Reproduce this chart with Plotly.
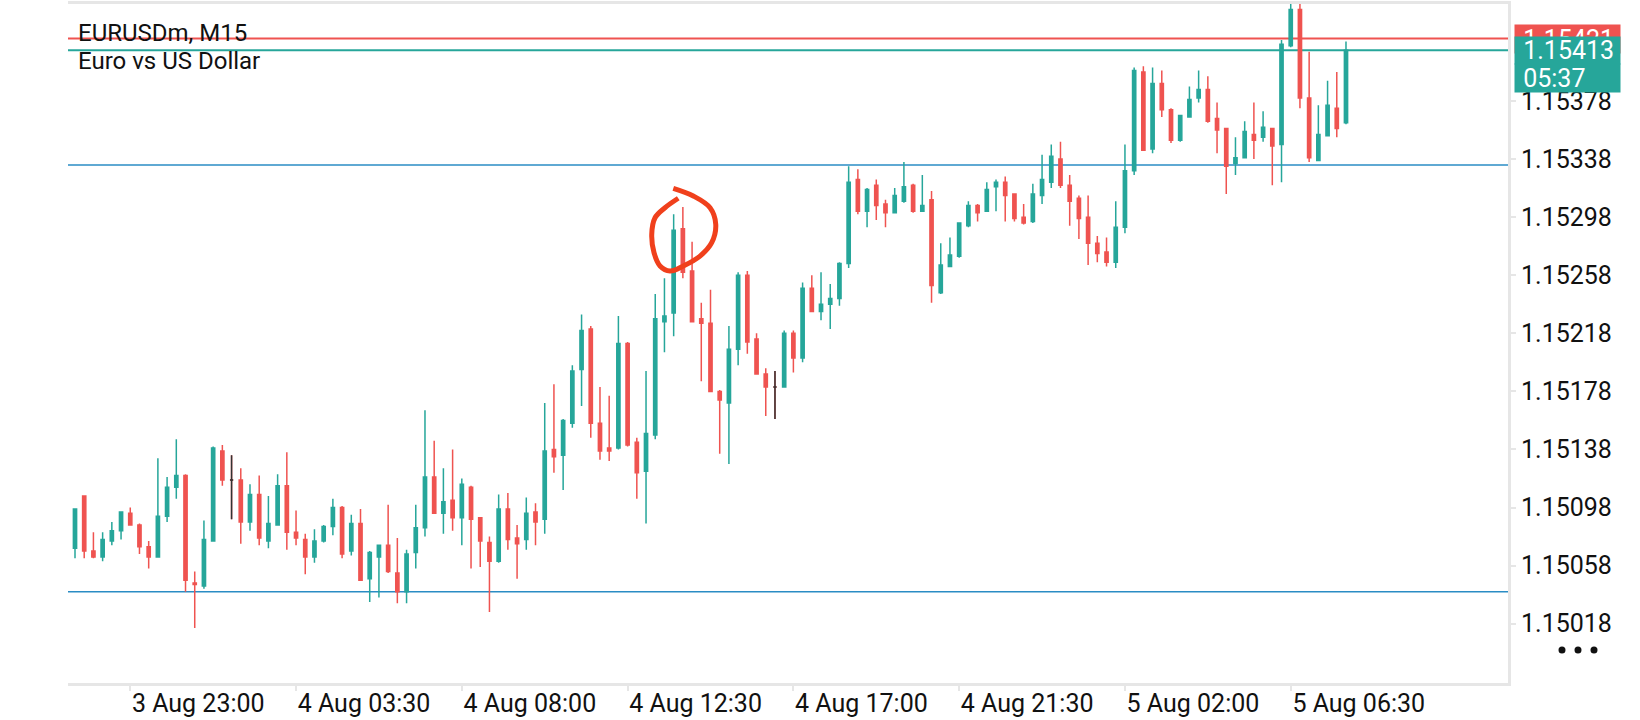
import pandas as pd
import plotly.graph_objects as go

# ---------------- data ----------------
TITLE_SYMBOL = "EURUSDm, M15"
TITLE_DESC = "Euro vs US Dollar"

first_bar_time = "2025-08-03 21:30"
bar_minutes = 15

bar_open = [
    1.15070, 1.15106, 1.15068, 1.15064, 1.15075,
    1.15082, 1.15094, 1.15086, 1.15071, 1.15064, 1.15092, 1.15112, 1.15120, 1.15046, 1.15044,
    1.15075, 1.15137, 1.15117, 1.15117, 1.15088, 1.15107, 1.15075, 1.15086, 1.15113, 1.15081,
    1.15076, 1.15064, 1.15075, 1.15085, 1.15098, 1.15068, 1.15087, 1.15049, 1.15064, 1.15072,
    1.15053, 1.15040, 1.15067, 1.15084, 1.15119, 1.15094, 1.15103, 1.15091, 1.15112, 1.15091,
    1.15074, 1.15061, 1.15097, 1.15077, 1.15076, 1.15095, 1.15090, 1.15138, 1.15134, 1.15156,
    1.15193, 1.15221, 1.15156, 1.15139, 1.15139, 1.15211, 1.15143, 1.15123, 1.15148, 1.15226,
    1.15232, 1.15290, 1.15261, 1.15228, 1.15225, 1.15178, 1.15170, 1.15207, 1.15258, 1.15214,
    1.15190, 1.15181, 1.15181, 1.15218, 1.15201, 1.15249, 1.15233, 1.15238, 1.15242, 1.15266,
    1.15324, 1.15302, 1.15320, 1.15307, 1.15301, 1.15309, 1.15320, 1.15302, 1.15310, 1.15246,
    1.15264, 1.15271, 1.15292, 1.15306, 1.15302, 1.15319, 1.15322, 1.15314, 1.15298, 1.15295,
    1.15313, 1.15322, 1.15338, 1.15320, 1.15311, 1.15298, 1.15280, 1.15274, 1.15267, 1.15291,
    1.15330, 1.15398, 1.15345, 1.15390, 1.15372, 1.15351, 1.15367, 1.15380, 1.15386, 1.15366,
    1.15359, 1.15335, 1.15339, 1.15355, 1.15353, 1.15359, 1.15348, 1.15416, 1.15441, 1.15380,
    1.15337, 1.15354, 1.15373, 1.15363,
]
bar_high = [
    1.15097, 1.15106, 1.15081, 1.15081, 1.15088,
    1.15095, 1.15098, 1.15087, 1.15075, 1.15132, 1.15119, 1.15145, 1.15121, 1.15054, 1.15089,
    1.15140, 1.15141, 1.15134, 1.15125, 1.15114, 1.15120, 1.15106, 1.15121, 1.15136, 1.15096,
    1.15080, 1.15083, 1.15086, 1.15104, 1.15099, 1.15093, 1.15097, 1.15068, 1.15072, 1.15100,
    1.15077, 1.15069, 1.15100, 1.15165, 1.15144, 1.15125, 1.15138, 1.15118, 1.15113, 1.15091,
    1.15078, 1.15107, 1.15108, 1.15086, 1.15105, 1.15101, 1.15170, 1.15183, 1.15159, 1.15196,
    1.15231, 1.15223, 1.15181, 1.15175, 1.15230, 1.15212, 1.15146, 1.15192, 1.15245, 1.15256,
    1.15300, 1.15305, 1.15281, 1.15239, 1.15248, 1.15179, 1.15223, 1.15260, 1.15261, 1.15218,
    1.15194, 1.15192, 1.15220, 1.15220, 1.15253, 1.15258, 1.15260, 1.15252, 1.15267, 1.15333,
    1.15331, 1.15318, 1.15324, 1.15310, 1.15318, 1.15336, 1.15321, 1.15327, 1.15316, 1.15280,
    1.15284, 1.15294, 1.15309, 1.15307, 1.15322, 1.15324, 1.15326, 1.15314, 1.15307, 1.15321,
    1.15341, 1.15348, 1.15350, 1.15327, 1.15313, 1.15313, 1.15285, 1.15284, 1.15309, 1.15348,
    1.15401, 1.15402, 1.15401, 1.15399, 1.15373, 1.15368, 1.15388, 1.15399, 1.15395, 1.15377,
    1.15359, 1.15353, 1.15364, 1.15377, 1.15371, 1.15359, 1.15420, 1.15446, 1.15446, 1.15412,
    1.15375, 1.15392, 1.15398, 1.15419,
]
bar_low = [
    1.15063, 1.15063, 1.15063, 1.15061, 1.15072,
    1.15076, 1.15086, 1.15066, 1.15056, 1.15064, 1.15088, 1.15104, 1.15040, 1.15015, 1.15042,
    1.15075, 1.15113, 1.15090, 1.15073, 1.15082, 1.15072, 1.15070, 1.15086, 1.15069, 1.15072,
    1.15052, 1.15060, 1.15074, 1.15079, 1.15063, 1.15065, 1.15048, 1.15033, 1.15036, 1.15053,
    1.15032, 1.15032, 1.15056, 1.15078, 1.15094, 1.15080, 1.15082, 1.15072, 1.15056, 1.15057,
    1.15026, 1.15060, 1.15069, 1.15049, 1.15069, 1.15072, 1.15080, 1.15122, 1.15110, 1.15153,
    1.15168, 1.15146, 1.15131, 1.15130, 1.15138, 1.15140, 1.15104, 1.15087, 1.15145, 1.15205,
    1.15216, 1.15256, 1.15226, 1.15185, 1.15178, 1.15135, 1.15128, 1.15196, 1.15204, 1.15190,
    1.15161, 1.15159, 1.15181, 1.15191, 1.15198, 1.15233, 1.15227, 1.15221, 1.15237, 1.15263,
    1.15300, 1.15291, 1.15296, 1.15291, 1.15301, 1.15308, 1.15301, 1.15302, 1.15239, 1.15245,
    1.15264, 1.15270, 1.15291, 1.15295, 1.15302, 1.15302, 1.15295, 1.15295, 1.15293, 1.15294,
    1.15307, 1.15318, 1.15318, 1.15292, 1.15283, 1.15265, 1.15267, 1.15264, 1.15263, 1.15287,
    1.15327, 1.15344, 1.15342, 1.15367, 1.15349, 1.15350, 1.15367, 1.15377, 1.15363, 1.15342,
    1.15314, 1.15327, 1.15339, 1.15338, 1.15350, 1.15320, 1.15322, 1.15415, 1.15373, 1.15336,
    1.15337, 1.15354, 1.15353, 1.15362,
]
bar_close = [
    1.15097, 1.15068, 1.15064, 1.15076, 1.15082,
    1.15095, 1.15086, 1.15071, 1.15064, 1.15092, 1.15112, 1.15120, 1.15048, 1.15045, 1.15076,
    1.15139, 1.15117, 1.15117, 1.15088, 1.15107, 1.15077, 1.15087, 1.15113, 1.15081, 1.15077,
    1.15064, 1.15075, 1.15085, 1.15098, 1.15066, 1.15087, 1.15048, 1.15067, 1.15072, 1.15054,
    1.15040, 1.15066, 1.15084, 1.15119, 1.15094, 1.15102, 1.15091, 1.15114, 1.15090, 1.15075,
    1.15061, 1.15097, 1.15076, 1.15073, 1.15094, 1.15088, 1.15137, 1.15133, 1.15158, 1.15192,
    1.15220, 1.15156, 1.15137, 1.15137, 1.15211, 1.15141, 1.15122, 1.15149, 1.15228, 1.15230,
    1.15289, 1.15260, 1.15226, 1.15225, 1.15178, 1.15172, 1.15207, 1.15258, 1.15212, 1.15190,
    1.15181, 1.15181, 1.15218, 1.15201, 1.15249, 1.15233, 1.15238, 1.15242, 1.15266, 1.15322,
    1.15302, 1.15317, 1.15306, 1.15301, 1.15313, 1.15319, 1.15302, 1.15306, 1.15251, 1.15265,
    1.15272, 1.15294, 1.15306, 1.15301, 1.15317, 1.15322, 1.15313, 1.15297, 1.15294, 1.15314,
    1.15324, 1.15340, 1.15320, 1.15309, 1.15297, 1.15280, 1.15273, 1.15267, 1.15291, 1.15330,
    1.15399, 1.15344, 1.15390, 1.15372, 1.15351, 1.15368, 1.15379, 1.15386, 1.15364, 1.15358,
    1.15333, 1.15339, 1.15357, 1.15351, 1.15360, 1.15347, 1.15417, 1.15441, 1.15380, 1.15339,
    1.15355, 1.15375, 1.15359, 1.15413,
]

ask_price = 1.15421
bid_price = 1.15413
bar_countdown = "05:37"
level_prices = [1.15334, 1.15040]

y_tick_values = [1.15018, 1.15058, 1.15098, 1.15138, 1.15178,
                 1.15218, 1.15258, 1.15298, 1.15338, 1.15378]
x_tick_times = ["2025-08-03 23:00", "2025-08-04 03:30", "2025-08-04 08:00",
                "2025-08-04 12:30", "2025-08-04 17:00", "2025-08-04 21:30",
                "2025-08-05 02:00", "2025-08-05 06:30"]
x_tick_labels = ["3 Aug 23:00", "4 Aug 03:30", "4 Aug 08:00", "4 Aug 12:30",
                 "4 Aug 17:00", "4 Aug 21:30", "5 Aug 02:00", "5 Aug 06:30"]

# hand-drawn marker around the highlighted candles (bars from first bar, price)
circle_bar = [64.96, 67.13, 68.95, 69.57, 69.13, 67.86, 66.05, 64.6,
              63.52, 62.87, 62.62, 62.98, 64.06, 65.5]
circle_price = [1.153179, 1.153126, 1.153045, 1.152931, 1.152804, 1.152712,
                1.152644, 1.152609, 1.152644, 1.152735, 1.152862, 1.152976,
                1.153045, 1.15311]

# ---------------- styles ----------------
TEAL = "#26a69a"
RED = "#ef5350"
LEVEL = "#2a8cc4"
AXIS = "#e6e6e6"
FONT = "Roboto"

times = pd.date_range(first_bar_time, periods=len(bar_close), freq=f"{bar_minutes}min")
step = pd.Timedelta(minutes=bar_minutes)

is_doji = [o == c for o, c in zip(bar_open, bar_close)]
nan = float("nan")

fig = go.Figure()
fig.add_trace(go.Candlestick(
    x=times, open=bar_open, high=bar_high, low=bar_low, close=bar_close,
    increasing=dict(line=dict(color=TEAL, width=1.5), fillcolor=TEAL),
    decreasing=dict(line=dict(color=RED, width=1.5), fillcolor=RED),
    whiskerwidth=0, hoverinfo="skip", showlegend=False,
))
fig.add_trace(go.Candlestick(
    x=times,
    open=[o if d else nan for o, d in zip(bar_open, is_doji)],
    high=[h if d else nan for h, d in zip(bar_high, is_doji)],
    low=[l if d else nan for l, d in zip(bar_low, is_doji)],
    close=[c if d else nan for c, d in zip(bar_close, is_doji)],
    increasing=dict(line=dict(color="#333333", width=1.5), fillcolor="#333333"),
    decreasing=dict(line=dict(color="#333333", width=1.5), fillcolor="#333333"),
    whiskerwidth=0, hoverinfo="skip", showlegend=False,
))
fig.add_trace(go.Scatter(
    x=[times[0] + step * b for b in circle_bar], y=circle_price,
    mode="lines", line=dict(color="#f0401c", width=5, shape="spline", smoothing=1.0),
    hoverinfo="skip", showlegend=False,
))

shapes = []
for p in level_prices:
    shapes.append(dict(type="line", xref="paper", x0=0, x1=1, yref="y", y0=p, y1=p,
                       line=dict(color=LEVEL, width=1.5), layer="below"))
shapes.append(dict(type="line", xref="paper", x0=0, x1=1, yref="y", y0=ask_price, y1=ask_price,
                   line=dict(color=RED, width=2), layer="below"))
shapes.append(dict(type="line", xref="paper", x0=0, x1=1, yref="y", y0=bid_price, y1=bid_price,
                   line=dict(color=TEAL, width=2), layer="below"))

# plot geometry (pixels) for placing labels outside the plot area
L, R, T, B = 68, 132, 4, 37
W, H = 1640, 720
PW, PH = W - L - R, H - T - B


def px_x(x):
    return (x - L) / PW


def px_y(y):
    return 1 - (y - T) / PH


for cx in (1562, 1578, 1594):
    shapes.append(dict(type="circle", xref="paper", yref="paper",
                       x0=px_x(cx - 3.5), x1=px_x(cx + 3.5),
                       y0=px_y(650 + 3.5), y1=px_y(650 - 3.5),
                       fillcolor="#111111", line=dict(width=0)))

annotations = [
    dict(text=TITLE_SYMBOL, xref="paper", yref="paper", x=px_x(76), y=px_y(33),
         xanchor="left", yanchor="middle", showarrow=False,
         font=dict(family=FONT, size=24, color="#111111")),
    dict(text=TITLE_DESC, xref="paper", yref="paper", x=px_x(76), y=px_y(61),
         xanchor="left", yanchor="middle", showarrow=False,
         font=dict(family=FONT, size=24, color="#111111")),
    dict(text="\u00a0" + f"{ask_price:.5f}", xref="paper", yref="paper",
         x=px_x(1514), y=px_y(39), xanchor="left", yanchor="middle", showarrow=False,
         width=101, height=24, borderpad=2, align="left", bgcolor=RED,
         font=dict(family=FONT, size=25, color="white")),
    dict(text="\u00a0" + f"{bid_price:.5f}", xref="paper", yref="paper",
         x=px_x(1514), y=px_y(50.5), xanchor="left", yanchor="middle", showarrow=False,
         width=101, height=23, borderpad=2, align="left", bgcolor=TEAL,
         font=dict(family=FONT, size=25, color="white")),
    dict(text="\u00a0" + bar_countdown, xref="paper", yref="paper",
         x=px_x(1514), y=px_y(78), xanchor="left", yanchor="middle", showarrow=False,
         width=101, height=24, borderpad=2, align="left", bgcolor=TEAL,
         font=dict(family=FONT, size=25, color="white")),
]

x_left = times[0] - step * (7 / 9.2101)
x_right = times[0] + step * ((1508 - 75) / 9.2101)
px_per_unit = 145194
y_top = 1.15378 + (101 - T) / px_per_unit
y_bot = 1.15378 - (H - B - 101) / px_per_unit

fig.update_layout(
    width=W, height=H,
    margin=dict(l=L, r=R, t=T, b=B, autoexpand=False),
    paper_bgcolor="white", plot_bgcolor="white",
    showlegend=False, boxgap=0.5,
    font=dict(family=FONT, size=25, color="#111111"),
    shapes=shapes, annotations=annotations,
    xaxis=dict(
        type="date", range=[x_left, x_right], automargin=False,
        showgrid=False, zeroline=False,
        showline=True, linecolor=AXIS, linewidth=3, mirror=True,
        ticks="outside", ticklen=5, tickwidth=2, tickcolor=AXIS,
        tickvals=x_tick_times, ticktext=x_tick_labels,
        tickfont=dict(family=FONT, size=25, color="#111111"),
        ticklabelshift=68, ticklabelstandoff=-9,
        rangeslider=dict(visible=False),
        fixedrange=True,
    ),
    yaxis=dict(
        side="right", range=[y_bot, y_top], automargin=False,
        showgrid=False, zeroline=False,
        showline=True, linecolor=AXIS, linewidth=3,
        ticks="outside", ticklen=5, tickwidth=2, tickcolor=AXIS,
        tickvals=y_tick_values, tickformat=".5f",
        tickfont=dict(family=FONT, size=25, color="#111111"),
        fixedrange=True,
    ),
)

fig.write_html(
    "out.html",
    config={"displayModeBar": False},
    post_script="document.body.style.margin='0px';document.body.style.overflow='hidden';",
)
